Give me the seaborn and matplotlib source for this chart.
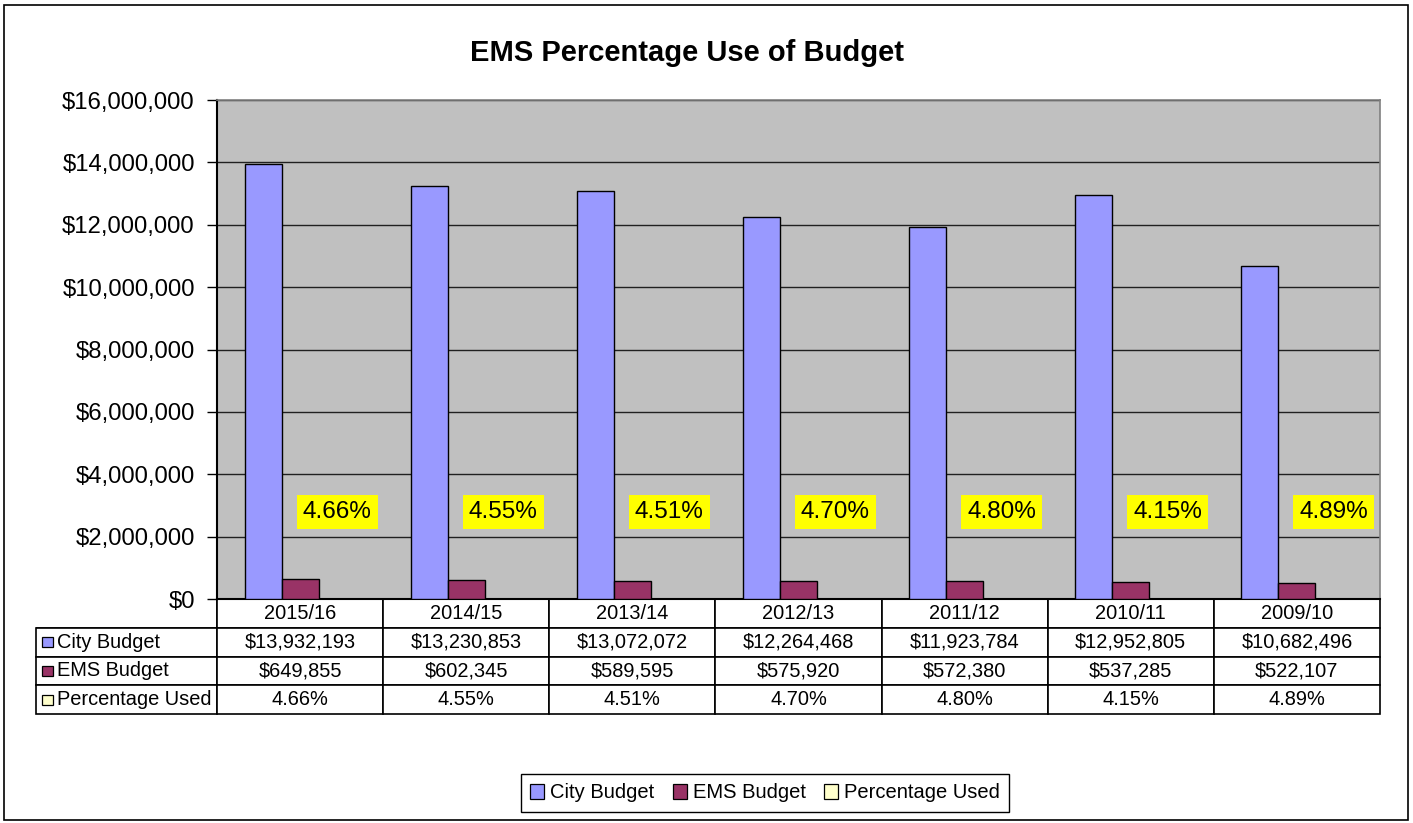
"""EMS percentage use of budget: grouped bars with a data table below."""

import matplotlib

matplotlib.use("Agg")
import matplotlib.pyplot as plt
import pandas as pd
import seaborn as sns
from matplotlib.patches import Patch, Rectangle

YEARS = ["2015/16", "2014/15", "2013/14", "2012/13", "2011/12", "2010/11", "2009/10"]
CITY_BUDGET = [13932193, 13230853, 13072072, 12264468, 11923784, 12952805, 10682496]
EMS_BUDGET = [649855, 602345, 589595, 575920, 572380, 537285, 522107]
PCT_USED = [4.66, 4.55, 4.51, 4.70, 4.80, 4.15, 4.89]

SERIES = ["City Budget", "EMS Budget", "Percentage Used"]
COLORS = ["#9999FF", "#993366", "#FFFFCC"]

W, H = 1413, 823


def fx(px):
    return px / W


def fy(py):
    return 1 - py / H


def main() -> None:
    sns.set_style("white")
    plt.rcParams["font.family"] = ["Liberation Sans", "DejaVu Sans"]
    plt.rcParams["text.color"] = "black"
    plt.rcParams["ytick.color"] = "black"

    df = pd.DataFrame(
        {
            "year": YEARS * 3,
            "series": [SERIES[0]] * 7 + [SERIES[1]] * 7 + [SERIES[2]] * 7,
            "value": CITY_BUDGET + EMS_BUDGET + [p / 100 for p in PCT_USED],
        }
    )

    fig = plt.figure(figsize=(W / 100, H / 100), dpi=100)
    ax = fig.add_axes([fx(217), fy(599), fx(1380) - fx(217), fy(100) - fy(599)])
    ax.set_facecolor("#C0C0C0")

    sns.barplot(
        data=df, x="year", y="value", hue="series", hue_order=SERIES,
        palette=COLORS, saturation=1, width=0.668, gap=0, edgecolor="black", linewidth=1,
        order=YEARS, ax=ax, legend=False, zorder=3,
    )

    ax.set_ylim(0, 16_000_000)
    ax.set_xlim(-0.5, 6.5)
    ax.set_yticks(range(0, 16_000_001, 2_000_000))
    ax.set_yticklabels([f"${v:,.0f}" for v in range(0, 16_000_001, 2_000_000)], fontsize=17.2)
    ax.tick_params(axis="y", length=7, width=1, color="black", labelcolor="black", pad=9, left=True)
    ax.set_xticks([])
    ax.set_xlabel("")
    ax.set_ylabel("")
    ax.yaxis.grid(True, color="#202020", linewidth=1)
    ax.set_axisbelow(True)
    for side in ["left", "bottom"]:
        ax.spines[side].set_color("black")
        ax.spines[side].set_linewidth(1.5)
    for side in ["top", "right"]:
        ax.spines[side].set_color("#808080")
        ax.spines[side].set_linewidth(1.2)

    # percentage labels above the (near zero) third bars
    for patch, pct in zip(ax.containers[2], PCT_USED):
        cx = patch.get_x() + patch.get_width() / 2
        ax.text(cx, 2_780_000, f"{pct:.2f}%", ha="center", va="center", fontsize=17.5,
                bbox=dict(boxstyle="square,pad=0.25", facecolor="#FFFF00", edgecolor="none"), zorder=5)

    # data table
    cell_text = [[""] + YEARS]
    cell_text.append(["City Budget"] + [f"${v:,.0f}" for v in CITY_BUDGET])
    cell_text.append(["EMS Budget"] + [f"${v:,.0f}" for v in EMS_BUDGET])
    cell_text.append(["Percentage Used"] + [f"{p:.2f}%" for p in PCT_USED])
    col_w = [181] + [1163 / 7] * 7
    table = ax.table(
        cellText=cell_text, colWidths=[c / 1344 for c in col_w],
        cellLoc="center",
        bbox=[(36 - 217) / 1163, -(714 - 599) / 499, 1344 / 1163, 115 / 499],
    )
    table.auto_set_font_size(False)
    for (r, c), cell in table.get_celld().items():
        cell.set_fontsize(14.4)
        cell.set_linewidth(1.2)
        cell.set_edgecolor("black")
        if c == 0:
            cell.get_text().set_ha("left")
            cell._loc = "left"
            cell.PAD = 0.115
        if r == 0 and c == 0:
            cell.visible_edges = "BR"

    # swatches in table label column
    for i, color in enumerate(COLORS):
        y_mid = 627 + 29 * i + 14.5
        fig.add_artist(Rectangle((fx(42), fy(y_mid + 5)), fx(11), 10 / H, transform=fig.transFigure,
                                 facecolor=color, edgecolor="black", linewidth=0.9))

    fig.text(fx(687), fy(53), "EMS Percentage Use of Budget", ha="center", va="center",
             fontsize=21, fontweight="bold")

    handles = [Patch(facecolor=c, edgecolor="black", linewidth=0.9) for c in COLORS]
    fig.legend(
        handles, SERIES, loc="center", bbox_to_anchor=(fx(765), fy(793)), ncol=3,
        fontsize=14.5, frameon=True, fancybox=False, edgecolor="black", framealpha=1,
        handlelength=0.7, handleheight=0.7, handletextpad=0.3, columnspacing=0.9,
        borderpad=0.45,
    )
    fig.legends[0].get_frame().set_linewidth(1)

    fig.add_artist(Rectangle((fx(4), fy(820)), fx(1404), (820 - 5) / H, transform=fig.transFigure,
                             facecolor="none", edgecolor="black", linewidth=1.2))

    fig.savefig("out.png", dpi=100)
    plt.close(fig)


if __name__ == "__main__":
    main()
